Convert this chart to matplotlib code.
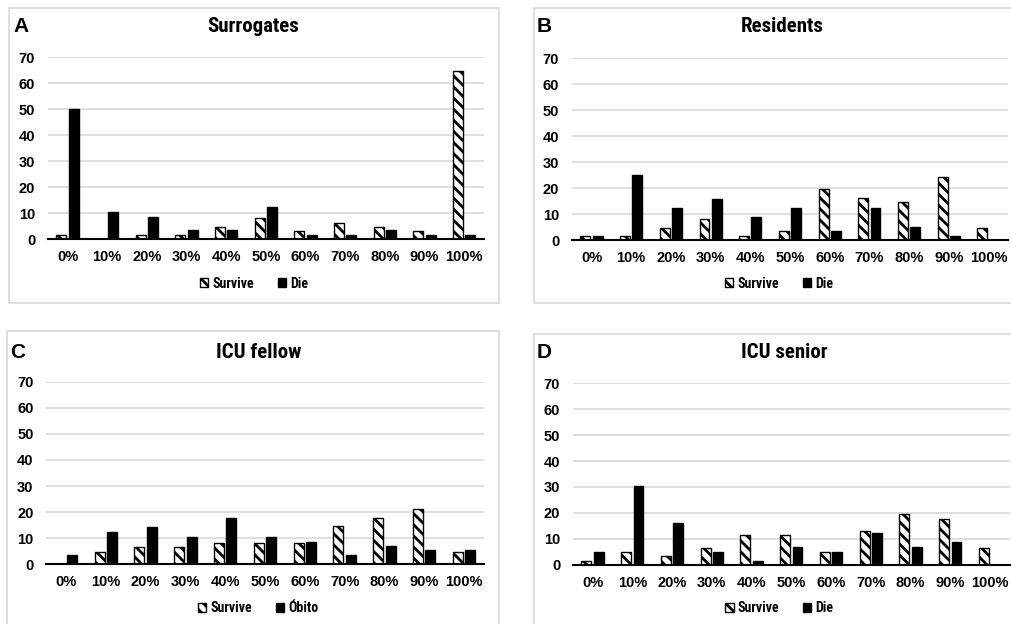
import matplotlib
matplotlib.use("Agg")
import matplotlib.pyplot as plt
from matplotlib import font_manager
from matplotlib.patches import Rectangle, Patch
import numpy as np

# ---------------- data ----------------
categories = ["0%", "10%", "20%", "30%", "40%", "50%", "60%", "70%", "80%", "90%", "100%"]

surrogates_survive = [1.5, 0, 1.5, 1.5, 4.9, 8.1, 3.1, 6.4, 4.9, 3.1, 64.6]
surrogates_die     = [50.0, 10.5, 8.7, 3.5, 3.5, 12.3, 1.5, 1.5, 3.5, 1.5, 1.5]

residents_survive = [1.5, 1.5, 4.7, 8.1, 1.5, 3.3, 19.5, 16.2, 14.5, 24.3, 4.7]
residents_die     = [1.5, 24.9, 12.2, 15.9, 8.7, 12.2, 3.3, 12.2, 5.1, 1.5, 0]

fellow_survive = [0, 4.9, 6.6, 6.6, 8.2, 8.2, 8.2, 14.7, 17.8, 21.1, 4.9]
fellow_die     = [3.4, 12.4, 14.3, 10.3, 17.8, 10.3, 8.7, 3.4, 6.9, 5.4, 5.4]

senior_survive = [1.5, 4.8, 3.3, 6.6, 11.5, 11.5, 4.8, 13.0, 19.6, 17.8, 6.6]
senior_die     = [5.0, 30.2, 16.0, 5.0, 1.5, 6.8, 5.0, 12.2, 6.8, 8.6, 0]

panel_letters = ["A", "B", "C", "D"]
panel_titles = ["Surrogates", "Residents", "ICU fellow", "ICU senior"]
legend_labels = [["Survive", "Die"], ["Survive", "Die"], ["Survive", "Óbito"], ["Survive", "Die"]]
y_ticks = [0, 10, 20, 30, 40, 50, 60, 70]

# ---------------- fonts ----------------
avail = {f.name for f in font_manager.fontManager.ttflist}
narrow = None
for cand in ["Liberation Sans Narrow", "Arial Narrow", "Roboto Condensed", "Open Sans Condensed"]:
    if cand in avail:
        narrow = cand
        break
fam = [narrow, "Liberation Sans", "DejaVu Sans"] if narrow else ["Liberation Sans", "DejaVu Sans"]
regular = ["Liberation Sans", "DejaVu Sans"]
plt.rcParams["font.family"] = fam
plt.rcParams["font.weight"] = "bold"
plt.rcParams["hatch.linewidth"] = 2.0
plt.rcParams["hatch.color"] = "black"

W, H = 1011, 624
fig = plt.figure(figsize=(W / 100, H / 100), dpi=100)

def fx(px):
    return px / W

def fy(py):
    return 1 - py / H

# panel frames (pixels): x0, y0, x1, y1
frames = [(9, 8, 499, 303), (533.5, 8, 1015, 303), (7, 331, 499, 630), (534, 333.5, 1015, 630)]
# axes (pixels): left, right, y_zero, y_70
axes_px = [(47.7, 484, 239.3, 57.3), (571.7, 1008.3, 240, 58.3),
           (46, 484, 564.3, 381.7), (572.7, 1010, 564.7, 383.3)]
letter_pos = [(13, 27), (537, 26), (10, 352), (537, 352)]
title_pos = [(253, 26), (781.7, 26), (258.3, 352), (784.3, 352)]
legend_pos = [(254, 283.5), (779, 283.5), (258.3, 608.5), (779.3, 608.5)]

survive_data = [surrogates_survive, residents_survive, fellow_survive, senior_survive]
die_data = [surrogates_die, residents_die, fellow_die, senior_die]

for (x0, y0, x1, y1) in frames:
    fig.patches.append(Rectangle((fx(x0), fy(y1)), fx(x1) - fx(x0), fy(y0) - fy(y1),
                                 transform=fig.transFigure, fill=False,
                                 edgecolor="#d9d9d9", linewidth=1.2, zorder=0))

x = np.arange(len(categories))
bw = 0.25
off = 0.155

for i in range(4):
    l, r, yz, y70 = axes_px[i]
    ax = fig.add_axes([fx(l), fy(yz), fx(r) - fx(l), fy(y70) - fy(yz)])
    ax.set_facecolor("none")
    ax.bar(x - off, survive_data[i], width=bw, facecolor="white", edgecolor="black",
           linewidth=1.0, hatch="\\\\\\", zorder=3)
    ax.bar(x + off, die_data[i], width=bw, facecolor="black", edgecolor="black",
           linewidth=1.0, zorder=3)
    ax.set_xlim(-0.5, len(categories) - 0.5)
    ax.set_ylim(0, 70)
    ax.set_yticks(y_ticks)
    ax.set_xticks(x)
    ax.set_xticklabels(categories)
    ax.yaxis.grid(True, color="#d9d9d9", linewidth=1.2, zorder=0)
    ax.set_axisbelow(True)
    for s in ["top", "right", "left"]:
        ax.spines[s].set_visible(False)
    ax.spines["bottom"].set_color("black")
    ax.spines["bottom"].set_linewidth(1.5)
    ax.spines["bottom"].set_zorder(4)
    ax.tick_params(axis="both", length=0, labelsize=10.5)
    ax.tick_params(axis="y", pad=9)
    ax.tick_params(axis="x", pad=8)
    for t in ax.get_xticklabels() + ax.get_yticklabels():
        t.set_fontweight("bold")
        t.set_family(regular)

    lx, ly = letter_pos[i]
    fig.text(fx(lx), fy(ly), panel_letters[i], ha="left", va="center", fontsize=15,
             fontweight="bold", family=regular)
    tx, ty = title_pos[i]
    fig.text(fx(tx), fy(ty), panel_titles[i], ha="center", va="center", fontsize=15,
             fontweight="bold")

    handles = [Patch(facecolor="white", edgecolor="black", hatch="\\\\\\", linewidth=1.0),
               Patch(facecolor="black", edgecolor="black", linewidth=1.0)]
    gx, gy = legend_pos[i]
    fig.legend(handles, legend_labels[i], loc="center", bbox_to_anchor=(fx(gx), fy(gy)),
               ncol=2, frameon=False, handlelength=0.6, handleheight=0.6,
               handletextpad=0.3, columnspacing=1.7,
               prop={"weight": "bold", "size": 10})

fig.savefig("out.png", dpi=100)
